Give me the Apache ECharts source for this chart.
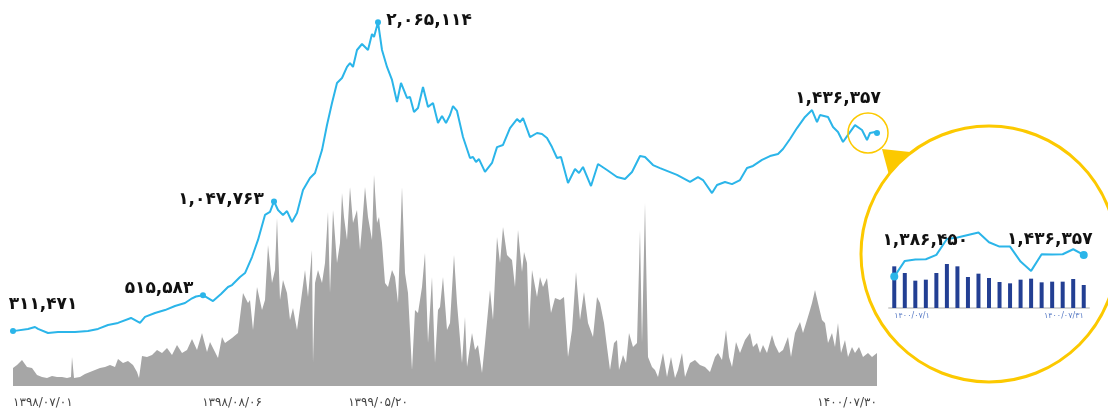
<!DOCTYPE html>
<html><head><meta charset="utf-8">
<script src="https://cdn.jsdelivr.net/npm/echarts@6/dist/echarts.min.js"></script>
<style>html,body{margin:0;padding:0;background:#fff}#c{width:1108px;height:409px}</style>
</head><body><div id="c"></div>
<script>
// [day offset, index value]
const indexPoints = [[0,311471],[15,324000],[22,335000],[25,324000],[35,301000],[45,306000],[62,306000],[75,312000],[85,324000],[95,346000],[105,358000],[118,386000],[127,358000],[132,392000],[142,414000],[152,431000],[162,454000],[172,471000],[178,494000],[183,508000],[190,515583],[200,482000],[208,522000],[215,562000],[219,573000],[227,619000],[232,641000],[239,732000],[245,829000],[252,971000],[257,988000],[261,1047763],[265,999000],[270,971000],[274,993000],[279,931000],[284,982000],[290,1112000],[297,1181000],[302,1209000],[309,1339000],[314,1481000],[319,1606000],[324,1720000],[329,1748000],[334,1811000],[337,1833000],[340,1811000],[344,1907000],[349,1941000],[355,1907000],[359,1998000],[361,1981000],[365,2065114],[369,1907000],[374,1811000],[379,1737000],[384,1612000],[388,1720000],[394,1635000],[397,1640000],[401,1555000],[405,1578000],[410,1697000],[415,1584000],[420,1606000],[425,1493000],[429,1532000],[433,1493000],[437,1538000],[440,1589000],[444,1561000],[450,1413000],[457,1294000],[460,1300000],[463,1271000],[466,1288000],[472,1215000],[479,1266000],[484,1356000],[490,1368000],[497,1464000],[504,1515000],[507,1498000],[510,1521000],[517,1413000],[524,1436000],[529,1430000],[534,1408000],[539,1356000],[544,1294000],[548,1300000],[555,1152000],[562,1232000],[566,1209000],[570,1243000],[578,1135000],[585,1260000],[594,1226000],[604,1186000],[612,1175000],[619,1215000],[627,1305000],[632,1300000],[640,1254000],[647,1237000],[664,1198000],[677,1158000],[685,1186000],[690,1169000],[699,1095000],[704,1141000],[712,1158000],[719,1146000],[727,1169000],[734,1237000],[740,1249000],[749,1283000],[757,1305000],[765,1317000],[770,1345000],[777,1402000],[784,1464000],[792,1527000],[799,1566000],[804,1498000],[807,1538000],[815,1527000],[820,1470000],[825,1442000],[830,1385000],[835,1425000],[842,1481000],[849,1453000],[854,1396000],[857,1436000],[862,1442000],[864,1436357]];
// [day offset, traded value (relative units)]
const volumePoints = [[0,18],[4,21],[9,26],[14,19],[19,18],[24,11],[29,9],[34,8],[39,10],[44,9],[49,9],[54,8],[58,9],[59,29],[61,8],[67,9],[72,12],[77,14],[82,16],[87,18],[92,19],[97,21],[102,19],[105,27],[110,23],[115,25],[120,21],[124,14],[126,8],[129,30],[134,29],[139,31],[144,36],[149,33],[154,38],[159,31],[164,41],[169,33],[174,36],[179,47],[184,36],[189,53],[194,34],[197,44],[202,34],[205,28],[209,49],[212,43],[219,48],[225,53],[230,93],[235,83],[237,86],[240,56],[244,99],[249,76],[252,86],[255,141],[259,103],[262,116],[264,168],[267,86],[270,106],[274,93],[277,66],[280,78],[284,56],[287,78],[292,116],[295,89],[299,136],[300,23],[302,103],[305,116],[309,103],[312,123],[315,174],[317,93],[320,176],[324,123],[327,143],[329,193],[331,169],[334,146],[337,199],[340,163],[344,176],[347,136],[349,159],[352,199],[355,169],[359,146],[361,211],[364,163],[366,169],[369,143],[372,103],[375,99],[379,116],[382,109],[385,83],[389,199],[392,113],[395,93],[399,16],[402,76],[405,73],[409,99],[412,133],[415,43],[419,109],[422,23],[425,76],[427,79],[430,109],[434,56],[437,63],[441,131],[444,83],[449,23],[452,69],[454,19],[459,53],[462,36],[465,41],[469,13],[472,43],[477,96],[480,66],[484,149],[487,123],[490,159],[494,131],[499,126],[502,99],[505,156],[509,114],[511,134],[514,123],[516,56],[519,116],[524,89],[527,109],[530,99],[534,108],[538,73],[542,88],[547,86],[551,89],[555,29],[559,56],[563,114],[567,66],[571,94],[575,63],[580,49],[584,89],[587,83],[591,63],[594,39],[597,16],[601,43],[604,46],[606,16],[610,31],[613,23],[616,53],[620,39],[624,43],[627,156],[629,43],[632,183],[635,29],[639,19],[642,16],[645,9],[650,33],[654,9],[658,29],[662,8],[665,16],[669,33],[672,9],[677,23],[682,26],[687,21],[692,19],[697,14],[702,29],[705,33],[709,26],[713,56],[716,29],[719,19],[723,44],[727,33],[732,46],[737,53],[740,39],[744,43],[747,33],[750,41],[754,33],[759,51],[762,41],[766,33],[770,36],[775,49],[778,29],[782,53],[787,64],[790,53],[794,66],[797,76],[799,83],[802,96],[805,83],[809,66],[812,63],[815,43],[819,53],[822,39],[825,63],[828,33],[832,46],[835,29],[839,39],[842,33],[846,39],[850,29],[855,33],[859,29],[864,33]];
const dateTickDays = [0, 219, 365, 864];
const dateTickLabels = ['۱۳۹۸/۰۷/۰۱', '۱۳۹۸/۰۸/۰۶', '۱۳۹۹/۰۵/۲۰', '۱۴۰۰/۰۷/۳۰'];
const labelledDays = [0, 190, 261, 365, 864];

// last month (1400/07) inset
const monthTickLabels = ['۱۴۰۰/۰۷/۱', '۱۴۰۰/۰۷/۳۱'];
const monthIndex = [1386450, 1422500, 1425600, 1426400, 1436400, 1473200, 1476300, 1482400, 1487800, 1465500, 1455500, 1455500, 1421000, 1399500, 1437900, 1437100, 1437900, 1449400, 1436357];
const monthVolume = [125, 105, 82, 85, 105, 132, 125, 93, 103, 90, 78, 74, 85, 88, 77, 79, 79, 87, 69];

const FONT = "'DejaVu Sans', sans-serif";
const BLUE = '#2bb5e9';
const YELLOW = '#fcc900';
function fa(n) {
  return String(Math.round(n)).replace(/\B(?=(\d{3})+(?!\d))/g, ',').replace(/\d/g, d => '۰۱۲۳۴۵۶۷۸۹'[d]);
}
const mainOffsets = [[30, -27], [-44, -7], [-53, -2], [51, -2], [-39, -34]];
const valueLabel = (off) => ({
  show: true, position: 'inside', offset: off, color: '#111', fontWeight: 'bold',
  fontSize: 17, fontFamily: FONT, formatter: p => fa(Array.isArray(p.value) ? p.value[1] : p.value)
});

const lineData = indexPoints.map(([d, v]) => {
  const k = labelledDays.indexOf(d);
  if (k < 0) return { value: [d, v], symbol: 'none' };
  return { value: [d, v], symbol: 'circle', symbolSize: 6, label: valueLabel(mainOffsets[k]) };
});
const n = monthIndex.length;
const monthLineData = monthIndex.map((v, i) => {
  if (i === 0) return { value: v, symbol: 'circle', symbolSize: 8, label: valueLabel([31, -36]) };
  if (i === n - 1) return { value: v, symbol: 'circle', symbolSize: 8, label: valueLabel([-34, -15]) };
  return { value: v, symbol: 'none' };
});

const chart = echarts.init(document.getElementById('c'), null, { renderer: 'canvas' });
chart.setOption({
  animation: false,
  backgroundColor: '#fff',
  grid: [
    { left: 13, right: 231, top: 16, bottom: 23 },
    { left: 889, top: 226, width: 200, height: 82 }
  ],
  xAxis: [
    {
      type: 'value', gridIndex: 0, min: 0, max: 864,
      splitLine: { show: false }, axisLine: { show: false }, axisTick: { show: false },
      axisLabel: {
        customValues: dateTickDays,
        formatter: v => dateTickLabels[dateTickDays.indexOf(v)] || '',
        alignMinLabel: 'left', alignMaxLabel: 'right',
        margin: 11, fontSize: 12, color: '#444', fontFamily: FONT
      }
    },
    {
      type: 'category', gridIndex: 1, data: monthIndex.map((_, i) => i),
      axisLine: { lineStyle: { color: '#d4d4d4', width: 2 } }, axisTick: { show: false },
      axisLabel: {
        interval: i => i === 0 || i === n - 1,
        formatter: (v, i) => i === 0 ? monthTickLabels[0] : (i === n - 1 ? monthTickLabels[1] : ''),
        alignMinLabel: 'left', alignMaxLabel: 'right',
        margin: 4, fontSize: 8, color: '#5b7dc6', fontFamily: FONT
      }
    }
  ],
  yAxis: [
    { type: 'value', gridIndex: 0, min: 0, max: 2100000, show: false },
    { type: 'value', gridIndex: 0, min: 0, max: 370, show: false },
    { type: 'value', gridIndex: 1, min: 1314000, max: 1503000, show: false },
    { type: 'value', gridIndex: 1, min: 0, max: 246, show: false }
  ],
  series: [
    {
      type: 'line', xAxisIndex: 0, yAxisIndex: 1, data: volumePoints, symbol: 'none',
      lineStyle: { width: 0 }, areaStyle: { color: '#a6a6a6', opacity: 1 }, z: 1
    },
    {
      type: 'line', xAxisIndex: 0, yAxisIndex: 0, data: lineData, showSymbol: true, showAllSymbol: true,
      lineStyle: { color: BLUE, width: 2 }, itemStyle: { color: BLUE }, z: 3
    },
    {
      type: 'bar', xAxisIndex: 1, yAxisIndex: 3, data: monthVolume, barWidth: 4,
      itemStyle: { color: '#233f93' }, z: 2
    },
    {
      type: 'line', xAxisIndex: 1, yAxisIndex: 2, data: monthLineData, showSymbol: true, showAllSymbol: true,
      lineStyle: { color: BLUE, width: 2 }, itemStyle: { color: BLUE }, z: 3
    }
  ],
  graphic: [
    { type: 'circle', shape: { cx: 868, cy: 133, r: 20 }, style: { fill: 'none', stroke: YELLOW, lineWidth: 1.5 }, z: 10 },
    { type: 'polygon', shape: { points: [[882, 149], [910, 152], [889, 175]] }, style: { fill: YELLOW }, z: 10 },
    { type: 'circle', shape: { cx: 989, cy: 254, r: 128 }, style: { fill: 'none', stroke: YELLOW, lineWidth: 3 }, z: 10 }
  ]
});
</script></body></html>
